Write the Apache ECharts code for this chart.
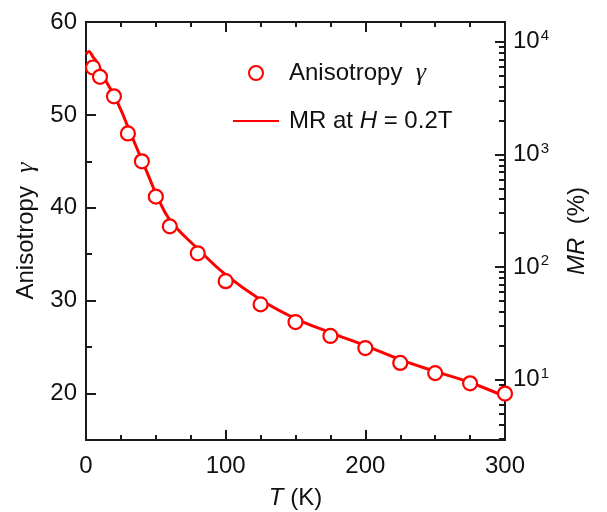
<!DOCTYPE html>
<html><head><meta charset="utf-8">
<script src="https://cdn.jsdelivr.net/npm/echarts@6/dist/echarts.min.js"></script>
<style>html,body{margin:0;padding:0;background:#fff}#c{width:607px;height:512px}</style>
</head><body><div id="c"></div>
<script>
// Anisotropy gamma (open circles, left axis)
const gammaT = [5, 10, 20, 30, 40, 50, 60, 80, 100, 125, 150, 175, 200, 225, 250, 275, 300];
const gammaVal = [55.1, 54.1, 52.0, 48.0, 45.0, 41.2, 38.0, 35.1, 32.1, 29.6, 27.7, 26.2, 24.9, 23.3, 22.2, 21.1, 20.0];
// MR at H = 0.2T (%), solid line, right log axis
const mrT = [0, 2, 5, 9, 12, 16, 20, 25, 30, 35, 40, 45, 50, 60, 80, 100, 125, 150, 175, 200, 225, 250, 275, 300];
const mrVal = [7760, 8220, 7350, 6210, 5060, 4120, 3370, 2480, 1760, 1250, 891, 634, 452, 262, 145, 85.3, 51.2, 34.8, 26.1, 20.0, 15.0, 11.8, 9.4, 7.06];
// axes
const xTicks = [0, 100, 200, 300];
const leftMajor = [20, 30, 40, 50, 60];
const leftMinor = [25, 35, 45, 55];
const rightDecades = [10, 100, 1000, 10000];
const leftRange = [15, 60];
const rightRange = [2.9, 15000];

const AX = '#1a1a1a';
const RED = '#ff0000';
const FONT = 'Liberation Sans';

const rightMinor = [];
for (let d = 0; d <= 4; d++) {
  for (let m = 2; m <= 9; m++) {
    const v = m * Math.pow(10, d);
    if (v > rightRange[0] && v < rightRange[1]) rightMinor.push(Math.log10(v));
  }
}

const GRID = {left: 86, right: 102, top: 22, bottom: 72, containLabel: false, outerBoundsMode: 'none'};
const chart = echarts.init(document.getElementById('c'), null, {renderer: 'canvas'});
chart.setOption({
  animation: false,
  backgroundColor: '#fff',
  grid: [Object.assign({}, GRID), Object.assign({}, GRID)],
  legend: {
    orient: 'vertical', left: 227, top: 54, itemWidth: 46, itemHeight: 14, itemGap: 20,
    data: [
      {name: 'Anisotropy γ'},
      {name: 'MR at H = 0.2T', itemStyle: {color: 'rgba(0,0,0,0)', borderWidth: 0, opacity: 0}}
    ],
    textStyle: {
      fontFamily: FONT, fontSize: 24, color: '#111', lineHeight: 28, padding: [0, 0, 0, 5],
      rich: {
        a: {fontFamily: FONT, fontSize: 24, color: '#111'},
        i: {fontFamily: FONT, fontSize: 24, color: '#111', fontStyle: 'italic'},
        g: {fontFamily: 'Liberation Serif', fontSize: 26, color: '#111', fontStyle: 'italic'}
      }
    },
    formatter: function (n) {
      if (n === 'Anisotropy γ') return '{a|Anisotropy  }{g|γ}';
      return '{a|MR at }{i|H}{a| = 0.2T}';
    }
  },
  xAxis: [{
    gridIndex: 0, type: 'value', position: 'bottom', min: 0, max: 300, interval: 100,
    axisLine: {show: true, onZero: false, lineStyle: {color: AX, width: 2}},
    axisTick: {show: true, inside: true, length: 10, lineStyle: {color: AX, width: 2}},
    minorTick: {show: true, splitNumber: 4, length: 5, lineStyle: {color: AX, width: 2}},
    splitLine: {show: false},
    axisLabel: {margin: 14, fontFamily: FONT, fontSize: 24, color: '#111', customValues: xTicks},
    name: '{i|T}{n| (K)}', nameLocation: 'middle', nameGap: 46,
    nameTextStyle: {rich: {
      i: {fontFamily: FONT, fontSize: 24, fontStyle: 'italic', color: '#111'},
      n: {fontFamily: FONT, fontSize: 24, color: '#111'}
    }}
  }, {
    gridIndex: 0, type: 'value', position: 'top', min: 0, max: 300, interval: 100,
    axisLine: {show: true, onZero: false, lineStyle: {color: AX, width: 2}},
    axisTick: {show: true, inside: true, length: 10, lineStyle: {color: AX, width: 2}},
    minorTick: {show: true, splitNumber: 4, length: 5, lineStyle: {color: AX, width: 2}},
    splitLine: {show: false},
    axisLabel: {show: false}
  }, {
    gridIndex: 1, type: 'value', position: 'bottom', min: 0, max: 300,
    axisLine: {show: false, onZero: false}, axisTick: {show: false}, axisLabel: {show: false}, splitLine: {show: false}
  }],
  yAxis: [{
    gridIndex: 0, type: 'value', position: 'left', min: leftRange[0], max: leftRange[1],
    axisLine: {show: true, onZero: false, lineStyle: {color: AX, width: 2}},
    axisTick: {show: true, inside: true, length: 10, customValues: leftMajor, lineStyle: {color: AX, width: 2}},
    splitLine: {show: false},
    axisLabel: {margin: 9, fontFamily: FONT, fontSize: 24, color: '#111', customValues: leftMajor},
    name: '{n|Anisotropy  }{g|γ}', nameLocation: 'middle', nameRotate: 90, nameGap: 47,
    nameTextStyle: {rich: {
      n: {fontFamily: FONT, fontSize: 24, color: '#111'},
      g: {fontFamily: 'Liberation Serif', fontSize: 26, fontStyle: 'italic', color: '#111'}
    }}
  }, {
    gridIndex: 0, type: 'log', logBase: 10, position: 'right', min: rightRange[0], max: rightRange[1],
    axisLine: {show: true, onZero: false, lineStyle: {color: AX, width: 2}},
    axisTick: {show: true, inside: true, length: 10, lineStyle: {color: AX, width: 2}},
    splitLine: {show: false},
    axisLabel: {
      margin: 8, fontFamily: FONT, fontSize: 24, color: '#111',
      showMinLabel: false, showMaxLabel: false,
      formatter: function (v) {
        const e = Math.round(Math.log10(v));
        if (Math.abs(Math.log10(v) - e) > 1e-6) return '';
        return '{b|10}{s|' + e + '}';
      },
      rich: {
        b: {fontFamily: FONT, fontSize: 24, color: '#111'},
        s: {fontFamily: FONT, fontSize: 15, color: '#111', verticalAlign: 'bottom', padding: [0, 0, 12, 1]}
      }
    },
    name: '{i|MR}{n|  (%)}', nameLocation: 'middle', nameRotate: 90, nameGap: 60,
    nameTextStyle: {rich: {
      i: {fontFamily: FONT, fontSize: 24, fontStyle: 'italic', color: '#111'},
      n: {fontFamily: FONT, fontSize: 24, color: '#111'}
    }}
  }, {
    gridIndex: 1, type: 'value', position: 'left', min: leftRange[0], max: leftRange[1],
    axisLine: {show: true, onZero: false, lineStyle: {color: AX, width: 2}},
    axisTick: {show: true, inside: true, length: 6, customValues: leftMinor, lineStyle: {color: AX, width: 2}},
    splitLine: {show: false},
    axisLabel: {show: true, formatter: function () { return ''; }}
  }, {
    gridIndex: 1, type: 'value', position: 'right', min: Math.log10(rightRange[0]), max: Math.log10(rightRange[1]),
    axisLine: {show: true, onZero: false, lineStyle: {color: AX, width: 2}},
    axisTick: {show: true, inside: true, length: 6, customValues: rightMinor, lineStyle: {color: AX, width: 2}},
    splitLine: {show: false},
    axisLabel: {show: true, formatter: function () { return ''; }}
  }],
  series: [{
    name: 'MR at H = 0.2T', type: 'line', xAxisIndex: 0, yAxisIndex: 1,
    data: mrT.map((t, i) => [t, mrVal[i]]),
    smooth: 0.4, showSymbol: false, symbol: 'none',
    lineStyle: {color: RED, width: 3}, itemStyle: {color: RED}, z: 2
  }, {
    name: 'Anisotropy γ', type: 'scatter', xAxisIndex: 0, yAxisIndex: 0,
    data: gammaT.map((t, i) => [t, gammaVal[i]]),
    symbol: 'circle', symbolSize: 14,
    itemStyle: {color: '#fff', borderColor: RED, borderWidth: 2.2, opacity: 1}, z: 3
  }]
});
</script></body></html>
